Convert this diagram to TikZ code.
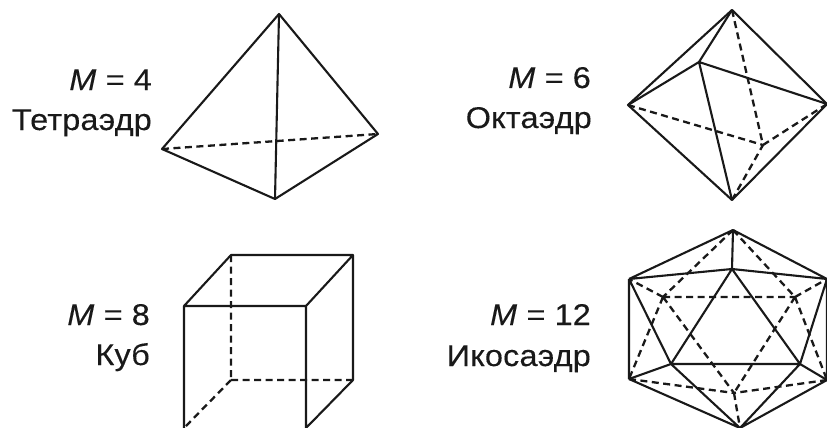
\documentclass[tikz,border=0pt]{standalone}
\usepackage{fontspec}
\setmainfont[FakeStretch=1.08,LetterSpace=0.6,FakeBold=0.25]{Liberation Sans}
\tikzset{
  x=1pt,y=-1pt,
  solid edge/.style={draw=black!90,line width=2.1pt},
  hidden edge/.style={draw=black!90,line width=2.3pt,dash pattern=on 7pt off 4.5pt},
  lbl/.style={inner sep=0pt,anchor=base east,font=\fontsize{30}{34}\selectfont,text=black!90}
}
\begin{document}
\begin{tikzpicture}
\useasboundingbox (0,0) rectangle (827,428);
\clip (0,0) rectangle (827,428);
% labels
\node[lbl] (t1) at (152,90) {\textit{M} = 4};
\node[lbl] (t2) at (152,130) {Тетраэдр};
\node[lbl] (o1) at (591,88) {\textit{M} = 6};
\node[lbl] (o2) at (592,128) {Октаэдр};
\node[lbl] (k1) at (150,325) {\textit{M} = 8};
\node[lbl] (k2) at (150,365) {Куб};
\node[lbl] (i1) at (591,325) {\textit{M} = 12};
\node[lbl] (i2) at (591,366) {Икосаэдр};
% tetrahedron
\coordinate (ta) at (279,14);
\coordinate (tb) at (162,149);
\coordinate (tc) at (378,134);
\coordinate (td) at (275,199);
\draw[solid edge,line join=round] (tb) -- (ta) -- (tc) -- (td) -- cycle;
\draw[solid edge] (ta) -- (td);
\draw[hidden edge] (tb) -- (tc);
% octahedron
\coordinate (oa) at (732,10);
\coordinate (ob) at (628,105);
\coordinate (oc) at (827,104);
\coordinate (od) at (732,200);
\coordinate (oe) at (699,62);
\coordinate (of) at (763,145);
\draw[solid edge,line join=round] (ob) -- (oa) -- (oc) -- (od) -- cycle;
\draw[solid edge] (oa) -- (oe) (ob) -- (oe) (oc) -- (oe) (od) -- (oe);
\draw[hidden edge] (oa) -- (of) (ob) -- (of) (oc) -- (of) (od) -- (of);
% cube
\coordinate (ca) at (184,306);
\coordinate (cb) at (306,306);
\coordinate (cc) at (231,255);
\coordinate (cd) at (353,255);
\coordinate (ce) at (231,380);
\coordinate (cf) at (353,380);
\coordinate (cg) at (184,428);
\coordinate (ch) at (306,428);
\draw[solid edge,line join=round] (cg) -- (ca) -- (cb) -- (ch) (ca) -- (cc) -- (cd) -- (cb) (cd) -- (cf) -- (ch);
\draw[hidden edge] (cc) -- (ce) (ce) -- (cf) (ce) -- (cg);
% icosahedron
\coordinate (ia) at (733,230);
\coordinate (ib) at (629,279);
\coordinate (ic) at (827,279);
\coordinate (id) at (732,269);
\coordinate (ie) at (663,297);
\coordinate (if) at (795,297);
\coordinate (ig) at (671,364);
\coordinate (ih) at (800,364);
\coordinate (ii) at (629,379);
\coordinate (ij) at (827,380);
\coordinate (ik) at (734,393);
\coordinate (il) at (740,428);
\draw[solid edge,line join=round] (ia) -- (ib) (ia) -- (ic) (ia) -- (id) (id) -- (ib) (id) -- (ic) (id) -- (ig) (id) -- (ih) (ig) -- (ih) (ib) -- (ii) (ib) -- (ig) (ic) -- (ih) (ic) -- (ij) (ii) -- (ig) (ij) -- (ih) (ig) -- (il) (ih) -- (il) (ii) -- (il) (ij) -- (il);
\draw[hidden edge] (ia) -- (ie) (ia) -- (if) (ie) -- (if) (ie) -- (ib) (if) -- (ic) (ie) -- (ii) (if) -- (ij) (ie) -- (ik) (if) -- (ik) (ii) -- (ik) (ij) -- (ik) (ik) -- (il);
\end{tikzpicture}
\end{document}
